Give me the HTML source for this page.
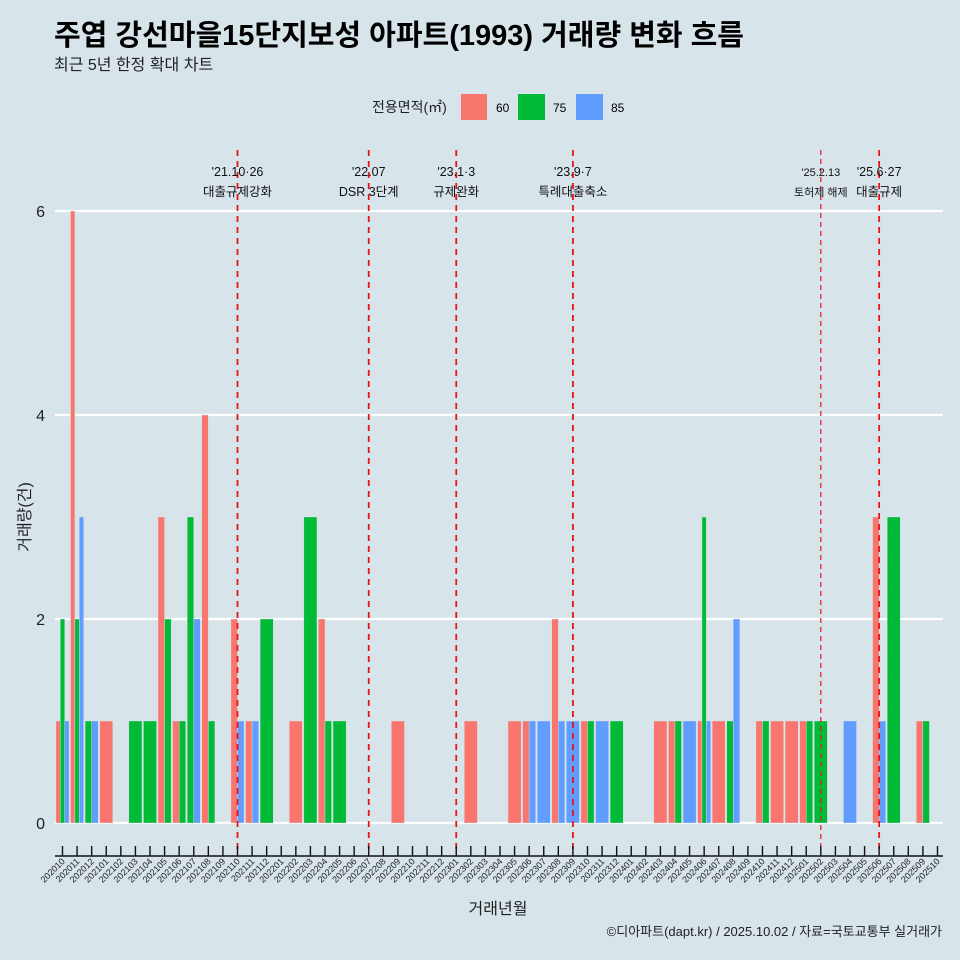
<!DOCTYPE html>
<html><head><meta charset="utf-8"><style>
body{margin:0;background:#d7e4ea;font-family:"Liberation Sans","Noto Sans CJK KR",sans-serif;}
svg{display:block}
</style></head><body>
<svg id="c" width="960" height="960" xmlns="http://www.w3.org/2000/svg" style="font-family:'Liberation Sans','Noto Sans CJK KR',sans-serif">
<rect width="960" height="960" fill="#d7e4ea"/>
<text x="54" y="45" font-size="29" font-weight="bold" fill="#000">주엽 강선마을15단지보성 아파트(1993) 거래량 변화 흐름</text>
<text x="54" y="70" font-size="16" fill="#222">최근 5년 한정 확대 차트</text>
<g>
<text x="372" y="112" font-size="14" fill="#222">전용면적(㎡)</text>
<rect x="461" y="94" width="26" height="26" fill="#f8766d"/>
<text x="496" y="112" font-size="12">60</text>
<rect x="518" y="94" width="27" height="26" fill="#00ba38"/>
<text x="553" y="112" font-size="12">75</text>
<rect x="576" y="94" width="27" height="26" fill="#619cff"/>
<text x="611" y="112" font-size="12">85</text>
</g>
<g id="grid"></g><g id="bars"></g><g id="events"></g><g id="axes"></g>
<text x="498" y="914" font-size="16" text-anchor="middle" fill="#222">거래년월</text>
<text transform="translate(30,517) rotate(-90)" font-size="16" text-anchor="middle" fill="#222">거래량(건)</text>
<text x="942" y="936" font-size="13" text-anchor="end" fill="#222">©디아파트(dapt.kr) / 2025.10.02 / 자료=국토교통부 실거래가</text>
</svg>
<script>
const months=[];for(let y=2020,m=10;!(y===2025&&m>10);){months.push(''+y+(m<10?'0':'')+m);m++;if(m>12){m=1;y++;}}
const sizes=['60','75','85'];
const colors={'60':'#f8766d','75':'#00ba38','85':'#619cff'};
const s60={'202010':1,'202011':6,'202101':1,'202105':3,'202106':1,'202108':4,'202110':2,'202111':1,'202202':1,'202204':2,'202209':1,'202302':1,'202305':1,'202306':1,'202308':2,'202310':1,'202403':1,'202404':1,'202406':1,'202407':1,'202410':1,'202411':1,'202412':1,'202501':1,'202506':3,'202509':1};
const s75={'202010':2,'202011':2,'202012':1,'202103':1,'202104':1,'202105':2,'202106':1,'202107':3,'202108':1,'202112':2,'202203':3,'202204':1,'202205':1,'202310':1,'202312':1,'202404':1,'202406':3,'202408':1,'202410':1,'202501':1,'202502':1,'202507':3,'202509':1};
const s85={'202010':1,'202011':3,'202012':1,'202107':2,'202110':1,'202111':1,'202306':1,'202307':1,'202308':1,'202309':1,'202311':1,'202405':1,'202406':1,'202408':2,'202504':1,'202506':1};
const yTicks=[0,2,4,6];
const evMonths=['202110','202207','202301','202309','202502','202506'];
const evDate=["'21.10·26","'22.07","'23.1·3","'23.9·7","'25.2.13","'25.6·27"];
const evText=['대출규제강화','DSR 3단계','규제완화','특례대출축소','토허제 해제','대출규제'];
const series={'60':s60,'75':s75,'85':s85};
const NS='http://www.w3.org/2000/svg';
const step=14.583,x0=62.5;
const xs=i=>x0+i*step;
const ys=v=>823-v*102;
function mk(t,a,p){const e=document.createElementNS(NS,t);for(const k in a)e.setAttribute(k,a[k]);p.appendChild(e);return e;}
const grid=document.getElementById('grid'),bars=document.getElementById('bars'),ev=document.getElementById('events'),ax=document.getElementById('axes');
yTicks.forEach(t=>{
 const l=mk('line',{x1:55,x2:943,y1:ys(t),y2:ys(t),stroke:'#fff','stroke-width':2.2},grid);
 
 
 const tx=mk('text',{x:45,y:ys(t)+6,'font-size':16,'text-anchor':'end',fill:'#222'},ax);tx.textContent=t;
 
 
});
months.forEach((m,i)=>{
 const present=sizes.filter(s=>series[s][m]);
 const tw=step*0.9,bw=tw/Math.max(present.length,1);
 present.forEach((s,j)=>{
  const v=series[s][m];
  const r=mk('rect',{x:xs(i)-tw/2+j*bw,y:ys(v),width:bw,height:ys(0)-ys(v),fill:colors[s],stroke:'#d7e4ea','stroke-width':0.4},bars);
  
  
 });
 const tk=mk('line',{x1:xs(i),x2:xs(i),y1:846,y2:856,stroke:'#111','stroke-width':1.4},ax);
 
 
 const tl=mk('text',{transform:`translate(${xs(i)+3},${862}) rotate(-45)`,'font-size':9,'text-anchor':'end',fill:'#222'},ax);tl.textContent=m;
 
 
});
const axl=mk('line',{x1:55,x2:943,y1:856,y2:856,stroke:'#111','stroke-width':1.6},ax);


evMonths.forEach((m,k)=>{
 const x=xs(months.indexOf(m));const thin=m==='202502';
 const l=mk('line',{x1:x,x2:x,y1:150,y2:850,stroke:'#e8141c','stroke-width':thin?1.2:1.8,'stroke-dasharray':thin?'5,4':'6,5'},ev);
 
 
 const fs=thin?11:12.5;
 const a=mk('text',{x:x,y:176,'font-size':fs,'text-anchor':'middle',fill:'#111'},ev);a.textContent=evDate[k];
 
 
 const b=mk('text',{x:x,y:196,'font-size':fs,'text-anchor':'middle',fill:'#111'},ev);b.textContent=evText[k];
 
 
});
</script>
</body></html>
